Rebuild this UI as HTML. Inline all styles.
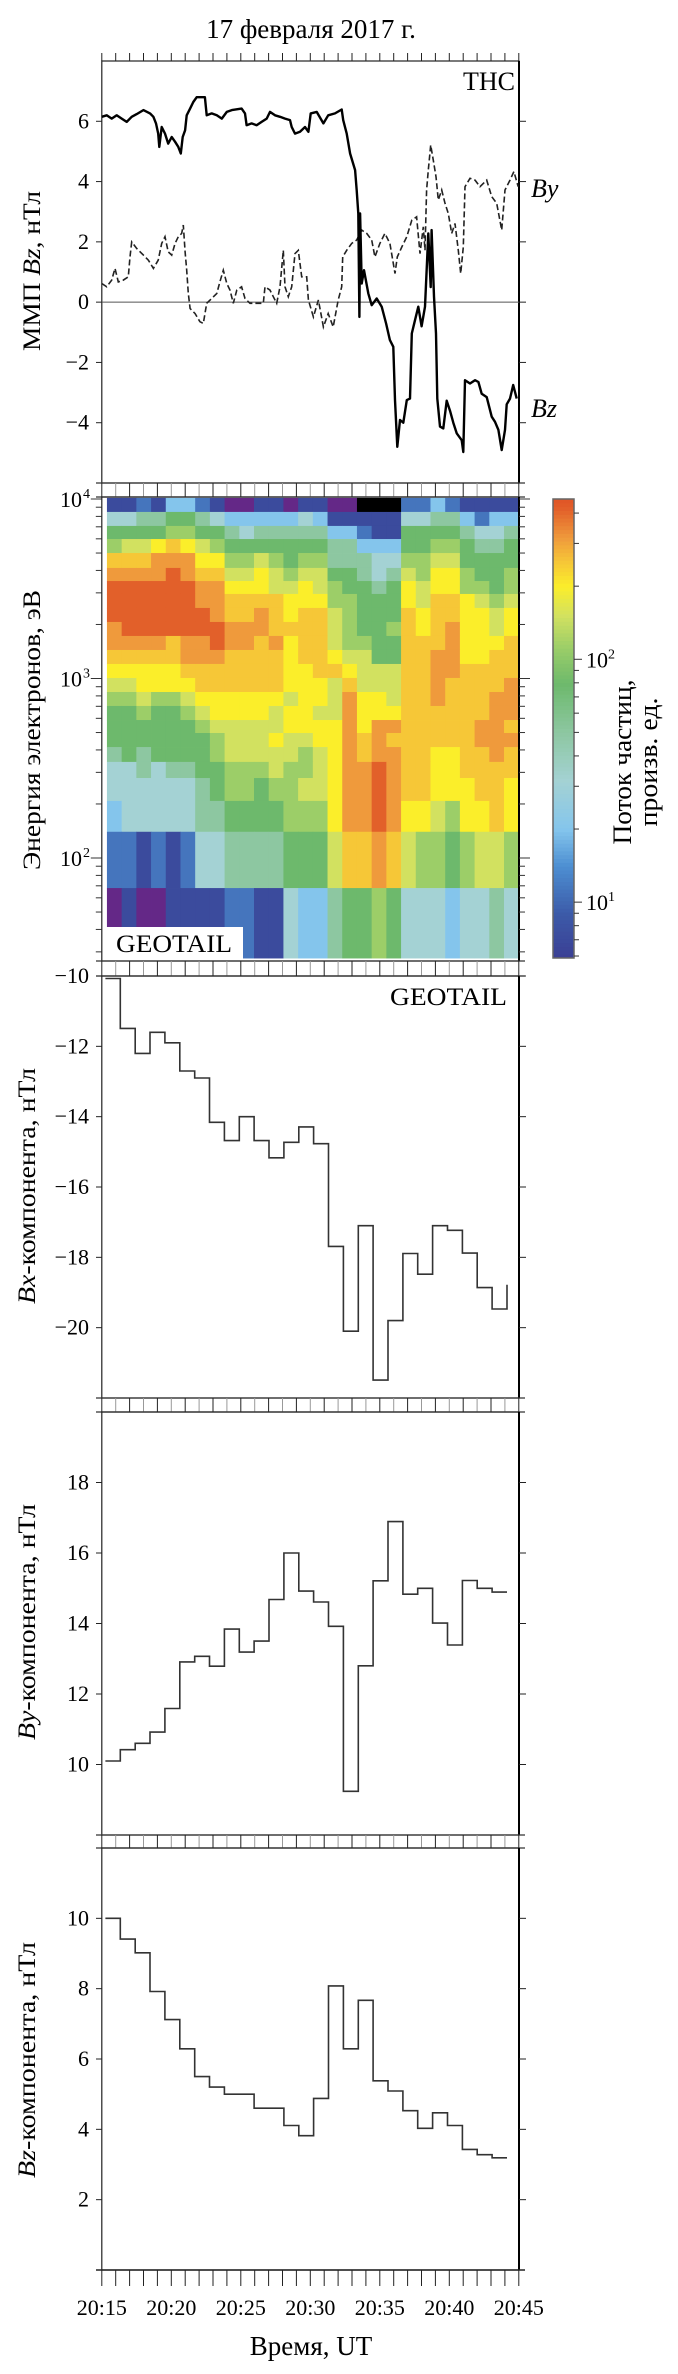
<!DOCTYPE html>
<html><head><meta charset="utf-8"><style>
html,body{margin:0;padding:0;background:#fff;}
svg{display:block;font-family:"Liberation Serif","DejaVu Serif",serif;}
</style></head><body>
<svg id="fig" width="678" height="2374" viewBox="0 0 678 2374" xmlns="http://www.w3.org/2000/svg">
<rect x="0" y="0" width="678" height="2374" fill="#fff"/>
<text x="311" y="38" font-size="27" text-anchor="middle">17 февраля 2017 г.</text>
<g id="g"></g>
</svg>
<script>
// ---------- Panel 1: THC IMF ----------
const bzTimes=[0,0.35,0.71,1.07,1.43,1.79,2.15,2.51,2.99,3.47,3.71,3.9,4.06,4.14,4.31,4.55,4.78,5.03,5.27,5.5,5.68,5.82,5.99,6.11,6.35,6.58,6.83,7.42,7.55,7.91,8.27,8.63,8.99,9.35,10.06,10.3,10.42,10.78,11.14,11.5,11.86,12.1,12.46,12.82,13.18,13.54,13.66,13.9,14.26,14.62,14.86,15.03,15.46,15.94,16.29,16.78,17.26,17.37,17.62,17.86,18.22,18.34,18.45,18.53,18.58,18.7,18.86,19.17,19.42,19.78,20.14,20.45,20.73,20.97,21.09,21.26,21.45,21.69,21.94,22.17,22.3,22.53,22.77,23.01,23.25,23.49,23.66,23.73,23.9,24.04,24.14,24.33,24.57,24.81,25.05,25.29,25.53,25.89,26.01,26.13,26.49,26.85,27.09,27.33,27.69,28.05,28.29,28.53,28.77,29.01,29.13,29.37,29.6,29.85];
const bzValues=[6.15,6.2,6.09,6.2,6.09,5.98,6.15,6.24,6.37,6.26,6.15,5.93,5.59,5.15,5.81,5.59,5.26,5.48,5.32,5.15,4.93,5.48,5.7,6.2,6.42,6.64,6.8,6.8,6.2,6.26,6.2,6.09,6.31,6.37,6.42,6.26,5.87,5.93,5.87,5.98,6.09,6.31,6.2,6.15,6.09,6.04,5.81,5.59,5.65,5.81,5.65,6.26,6.31,5.93,6.2,6.26,6.39,6.04,5.59,4.93,4.38,3.71,2.94,-0.49,2.94,0.62,1.06,0.29,-0.1,0.12,-0.15,-0.71,-1.26,-1.48,-3.25,-4.8,-3.91,-4.0,-3.25,-3.2,-1.04,-0.6,-0.15,-0.8,-0.15,2.28,0.5,2.39,0.18,-1.04,-3.2,-4.13,-4.19,-3.27,-3.6,-4.0,-4.35,-4.58,-4.97,-2.59,-2.7,-2.59,-2.65,-3.04,-3.15,-3.8,-3.97,-4.24,-4.91,-4.24,-3.39,-3.2,-2.75,-3.2];
const byTimes=[0,0.35,0.71,0.95,1.19,1.55,1.91,2.03,2.15,2.51,2.99,3.35,3.71,4.06,4.31,4.55,4.78,5.03,5.27,5.5,5.75,5.86,5.99,6.11,6.22,6.35,6.71,7.06,7.3,7.55,7.91,8.27,8.5,8.74,8.99,9.22,9.46,9.71,10.06,10.3,10.66,11.14,11.62,11.74,12.1,12.34,12.58,12.82,13.06,13.18,13.42,13.66,13.9,14.14,14.38,14.74,14.86,15.22,15.58,15.94,16.29,16.65,17.01,17.26,17.33,17.62,17.98,18.34,18.7,19.06,19.42,19.65,20.01,20.37,20.73,21.09,21.26,21.58,21.94,22.3,22.65,22.89,23.13,23.25,23.37,23.49,23.66,23.85,24.04,24.21,24.45,24.69,24.93,25.17,25.41,25.65,25.82,26.01,26.13,26.49,26.85,27.21,27.69,28.05,28.41,28.77,29.01,29.37,29.65,29.96];
const byValues=[0.62,0.51,0.73,1.12,0.67,0.73,0.84,1.5,2.0,1.78,1.56,1.39,1.12,1.39,1.95,2.17,1.67,1.56,1.95,2.17,2.28,2.56,1.67,1.06,0.29,-0.21,-0.38,-0.65,-0.71,-0.04,0.12,0.29,0.67,1.06,0.62,0.4,-0.04,0.4,0.51,0.12,-0.04,-0.04,-0.04,0.51,0.4,0.18,-0.04,0.51,1.72,0.51,0.18,0.51,1.61,1.72,0.84,0.84,0.07,-0.49,0.07,-0.82,-0.38,-0.82,0.07,0.51,1.5,1.72,1.95,2.06,2.39,2.28,2.06,1.5,1.95,2.28,1.95,0.95,1.5,1.83,2.17,2.72,2.83,1.61,2.5,1.72,3.72,4.38,5.21,4.71,4.16,3.39,3.72,3.28,2.94,2.28,2.61,1.72,0.95,1.83,3.83,4.11,4.05,3.83,4.05,3.5,3.28,2.39,3.72,4.05,4.33,3.83];
const p1Ticks=[-4,-2,0,2,4,6];

// ---------- Panel 2: electron spectrogram ----------
const energyEdges=[10139,8472,7079,5984,5000,4130,3491,2958,2472,2065,1726,1442,1205,1007,841,703,587,497,415,343,279,208,140,68,27.7];
const colTimeStart=0.37;
const colTimeStep=1.058;
const P=0.6,K=0.2,D=0.85,B=1.05,L=1.3,C=1.5,T=1.7,G=1.9,g=2.05,Y=2.18,y=2.3,o=2.4,O=2.5,R=2.62;
const fluxLog=[
[D,D,B,D,L,L,B,D,P,P,D,D,P,D,D,P,P,K,K,K,B,B,L,B,D,D,D,D],
[C,C,T,T,G,G,T,C,L,L,L,L,L,C,L,D,D,D,D,D,C,C,T,T,L,B,L,L],
[G,G,G,G,g,g,G,G,T,C,T,T,T,T,T,L,L,B,D,D,G,G,G,G,T,C,C,T],
[g,Y,Y,y,o,y,Y,g,G,G,G,G,G,G,G,T,T,L,L,L,G,G,g,g,G,T,T,G],
[o,o,o,O,O,O,y,y,g,g,Y,g,G,g,g,T,T,T,C,C,g,g,Y,Y,G,G,G,G],
[O,O,O,O,R,O,o,o,Y,Y,y,Y,g,Y,Y,G,G,T,C,T,Y,g,y,y,g,G,G,g],
[R,R,R,R,R,R,O,O,y,y,y,Y,Y,y,Y,g,G,G,T,G,y,Y,y,y,g,g,G,g],
[R,R,R,R,R,R,O,O,o,o,o,o,y,y,y,g,g,G,G,G,y,Y,o,o,y,Y,g,Y],
[R,R,R,R,R,R,R,O,o,o,O,o,y,o,o,Y,g,G,G,G,o,y,o,o,y,y,Y,y],
[O,R,R,R,R,R,R,R,O,O,O,o,o,o,o,Y,g,G,G,g,o,y,o,O,y,y,Y,y],
[O,O,O,O,o,O,O,R,O,O,o,O,y,o,o,Y,g,g,G,G,o,o,o,O,y,y,y,o],
[o,o,o,o,o,O,O,O,o,o,o,o,y,o,o,y,Y,Y,G,G,o,o,O,O,y,y,o,o],
[y,y,y,y,y,o,o,o,o,o,o,o,y,y,o,o,y,Y,Y,Y,o,o,O,O,o,o,o,o],
[Y,Y,y,y,y,y,o,o,o,o,o,o,y,y,y,Y,o,Y,Y,Y,o,o,O,o,o,o,o,O],
[g,g,Y,g,g,Y,y,y,y,y,y,y,Y,y,y,Y,O,y,y,Y,o,o,O,o,o,o,O,O],
[G,G,g,G,G,g,Y,y,y,y,y,Y,y,y,Y,Y,O,y,y,y,o,o,o,o,o,o,O,O],
[G,G,G,G,G,G,g,Y,Y,Y,Y,Y,y,y,y,y,O,y,O,O,o,o,o,o,o,O,O,o],
[G,G,G,G,G,G,G,g,Y,Y,Y,y,Y,Y,y,y,O,o,O,o,o,o,o,o,o,O,O,O],
[T,G,T,G,G,G,G,g,Y,Y,Y,Y,Y,g,Y,y,O,o,O,O,o,o,y,y,o,o,O,o],
[C,C,T,C,T,T,G,G,g,g,g,Y,g,g,Y,y,O,O,R,O,o,o,y,y,o,o,o,o],
[C,C,C,C,C,C,T,G,g,g,G,g,g,Y,Y,y,O,O,R,O,o,o,y,y,y,o,o,y],
[L,C,C,C,C,C,T,T,G,G,G,G,g,g,g,y,O,O,R,O,y,y,Y,g,y,y,o,y],
[B,B,D,B,D,B,C,C,T,T,T,T,G,G,G,Y,o,o,O,o,Y,g,g,G,g,Y,Y,g],
[P,D,P,P,D,D,D,D,B,B,D,D,C,L,L,T,G,G,g,G,C,C,C,L,C,C,T,C]
];
const eTickExps=[2,3,4];
const cbTickExps=[1,2];

// ---------- Panels 3-5: GEOTAIL field components ----------
const stepTimeStart=0.26;
const stepTimeStep=1.07;
const bxValues=[-10.07,-11.49,-12.2,-11.6,-11.9,-12.7,-12.9,-14.16,-14.68,-14.0,-14.68,-15.17,-14.73,-14.29,-14.77,-17.69,-20.1,-17.1,-21.49,-19.8,-17.89,-18.48,-17.1,-17.23,-17.88,-18.86,-19.47,-18.78];
const byGValues=[10.1,10.42,10.6,10.92,11.59,12.91,13.07,12.79,13.84,13.19,13.5,14.68,16.0,14.92,14.61,13.92,9.24,12.8,15.21,16.89,14.83,15.0,14.01,13.39,15.22,15.0,14.89,14.89];
const bzGValues=[10.0,9.41,9.02,7.92,7.12,6.29,5.5,5.2,5.0,5.0,4.6,4.6,4.11,3.82,4.88,8.08,6.29,7.67,5.38,5.09,4.53,4.03,4.47,4.11,3.43,3.28,3.19,3.19];
const bxTicks=[-20,-18,-16,-14,-12,-10];
const byTicks=[10,12,14,16,18];
const bzTicks=[2,4,6,8,10];
const timeLabels=["20:15","20:20","20:25","20:30","20:35","20:40","20:45"];

const NS="http://www.w3.org/2000/svg";
const G0=document.getElementById('g');
function mk(tag,attrs,parent){const e=document.createElementNS(NS,tag);for(const k in attrs)e.setAttribute(k,attrs[k]);(parent||G0).appendChild(e);return e;}
const XL=101.8, XR=519;
const X=t=>XL+t*13.9;
function lin(vmin,vmax,top,bot){return v=>bot-(v-vmin)/(vmax-vmin)*(bot-top);}

function frame(name,top,bot){
  const r=mk('rect',{x:XL,y:top,width:XR-XL,height:bot-top,fill:'none',stroke:'#222','stroke-width':1.2});
  
  
  const rr=mk('line',{x1:XR,y1:top,x2:XR,y2:bot,stroke:'#000','stroke-width':2});
  
  
}
function strip(name,top,bot){
  const gg=mk('g',{});
  
  
  mk('line',{x1:96,y1:top,x2:XR+6,y2:top,stroke:'#333','stroke-width':1.2},gg);
  mk('line',{x1:96,y1:bot,x2:XR+6,y2:bot,stroke:'#333','stroke-width':1.2},gg);
  for(let i=0;i<=30;i++){mk('line',{x1:X(i),y1:top,x2:X(i),y2:bot,stroke:i%2?'#999':'#222','stroke-width':1},gg);}
}
function yTicks(name,ticks,sc,fmt){
  const gg=mk('g',{});
  
  
  ticks.forEach(v=>{const yy=sc(v);
    mk('line',{x1:96,y1:yy,x2:XL,y2:yy,stroke:'#222','stroke-width':1},gg);
    mk('line',{x1:XR,y1:yy,x2:XR+7,y2:yy,stroke:'#222','stroke-width':1},gg);
    const t=mk('text',{x:89,y:yy+7,'font-size':22,'text-anchor':'end'},gg);t.textContent=fmt(v);});
}
function yTitle(name,cx,cy,len,parts){
  const t=mk('text',{transform:`translate(${cx},${cy}) rotate(-90)`,'text-anchor':'middle','font-size':25,textLength:len,lengthAdjust:'spacingAndGlyphs'});
  
  
  parts.forEach(p=>{const s=mk('tspan',p[1]?{'font-style':'italic'}:{},t);s.textContent=p[0];});
}
const minus=v=>(v<0?'\u2212':'')+Math.abs(v);

// Panel 1
const y1=lin(-6,8,61,483);
frame('imf-panel',61,483);
for(let i=0;i<=30;i++){mk('line',{x1:X(i),y1:53,x2:X(i),y2:61,stroke:'#222','stroke-width':1});}
yTicks('imf-y-ticks',p1Ticks,y1,minus);
const zl=mk('line',{x1:XL,y1:y1(0),x2:XR,y2:y1(0),stroke:'#555','stroke-width':1});


let dBy=byTimes.map((t,i)=>(i?'L':'M')+X(t).toFixed(1)+' '+y1(byValues[i]).toFixed(1)).join(' ');
const pBy=mk('path',{d:dBy,fill:'none',stroke:'#222','stroke-width':1.6,'stroke-dasharray':'6,3'});


let dBz=bzTimes.map((t,i)=>(i?'L':'M')+X(t).toFixed(1)+' '+y1(bzValues[i]).toFixed(1)).join(' ');
const pBz=mk('path',{d:dBz,fill:'none',stroke:'#000','stroke-width':2.4,'stroke-linejoin':'round'});


let tx=mk('text',{x:515,y:90,'font-size':26,'text-anchor':'end'});tx.textContent='THC';


tx=mk('text',{x:531,y:197,'font-size':26,'font-style':'italic'});tx.textContent='By';


tx=mk('text',{x:531,y:417,'font-size':26,'font-style':'italic'});tx.textContent='Bz';


yTitle('imf-y-axis-title',40,271,160,[['ММП ',0],['Bz',1],[', нТл',0]]);

strip('strip-1',483,497);

// Panel 2 heatmap
const eTop=499,eDec=179.5;
const yE=E=>eTop+(4-Math.log10(E))*eDec;
const stops=[[0.77,[59,63,148]],[0.95,[60,90,168]],[1.15,[77,143,210]],[1.3,[132,197,236]],[1.5,[164,210,212]],[1.7,[141,199,161]],[1.9,[109,185,108]],[2.05,[156,206,104]],[2.18,[210,225,96]],[2.3,[251,238,42]],[2.4,[246,199,55]],[2.5,[239,154,60]],[2.62,[226,96,42]],[2.66,[224,85,38]]];
function cmap(v){
  if(v<0.4)return 'rgb(0,0,0)';
  if(v<0.72)return 'rgb(100,40,135)';
  if(v<=stops[0][0])return `rgb(${stops[0][1]})`;
  for(let i=1;i<stops.length;i++){if(v<=stops[i][0]){const a=stops[i-1],b=stops[i],f=(v-a[0])/(b[0]-a[0]);
    return 'rgb('+a[1].map((c,k)=>Math.round(c+(b[1][k]-c)*f)).join(',')+')';}}
  return `rgb(${stops[stops.length-1][1]})`;
}
const hm=mk('g',{});


fluxLog.forEach((row,r)=>{
  const ya=yE(energyEdges[r]),yb=yE(energyEdges[r+1]);
  row.forEach((v,c)=>{
    const xa=X(colTimeStart+c*colTimeStep),xb=Math.min(XR,X(colTimeStart+(c+1)*colTimeStep));
    const cell=mk('rect',{x:xa.toFixed(2),y:ya.toFixed(2),width:(xb-xa+0.4).toFixed(2),height:(yb-ya+0.4).toFixed(2),fill:cmap(v)},hm);
    
    
  });
});
frame('spectrogram-panel',497,961);
const et=mk('g',{});


for(let d=1;d<=4;d++){for(let m=1;m<10;m++){const E=Math.pow(10,d)*m;const yy=yE(E);if(yy<497||yy>961)continue;
  const len=m===1?11:6;
  mk('line',{x1:XL-len,y1:yy,x2:XL,y2:yy,stroke:'#333','stroke-width':1},et);
  mk('line',{x1:XR,y1:yy,x2:XR+len,y2:yy,stroke:'#333','stroke-width':1},et);}}
eTickExps.forEach(e=>{const t=mk('text',{x:82,y:yE(Math.pow(10,e))+8,'font-size':22,'text-anchor':'end'},et);t.textContent='10';
  const s=mk('tspan',{x:83,dy:-9,'font-size':14,'text-anchor':'start'},t);s.textContent=String(e);});
const gb=mk('rect',{x:103,y:927,width:140,height:33,fill:'#fff'});


tx=mk('text',{x:116,y:952,'font-size':25,textLength:116,lengthAdjust:'spacingAndGlyphs'});tx.textContent='GEOTAIL';


yTitle('energy-y-axis-title',40,730,280,[['Энергия электронов, эВ',0]]);

// colorbar
const cbTop=499,cbBot=958,cbMin=0.77,cbMax=2.66;
const yC=v=>cbBot-(v-cbMin)/(cbMax-cbMin)*(cbBot-cbTop);
const cb=mk('g',{});


for(let i=0;i<120;i++){const v=cbMin+(cbMax-cbMin)*(i+0.5)/120;const ya=yC(cbMin+(cbMax-cbMin)*(i+1)/120);
  mk('rect',{x:553,y:ya,width:21,height:(cbBot-cbTop)/120+0.5,fill:cmap(v)},cb);}
mk('rect',{x:553,y:cbTop,width:21,height:cbBot-cbTop,fill:'none',stroke:'#666','stroke-width':1.5},cb);
for(let d=0;d<=2;d++){for(let m=1;m<10;m++){const lv=d+Math.log10(m);if(lv<cbMin||lv>cbMax)continue;const yy=yC(lv);
  mk('line',{x1:574,y1:yy,x2:m===1?582:579,y2:yy,stroke:'#333','stroke-width':1},cb);}}
cbTickExps.forEach(e=>{const t=mk('text',{x:586,y:yC(e)+8,'font-size':22},cb);t.textContent='10';
  const s=mk('tspan',{dy:-9,'font-size':14},t);s.textContent=String(e);});
tx=mk('text',{transform:'translate(631,762) rotate(-90)','text-anchor':'middle','font-size':26,textLength:165,lengthAdjust:'spacingAndGlyphs'});tx.textContent='Поток частиц,';


tx=mk('text',{transform:'translate(657,762) rotate(-90)','text-anchor':'middle','font-size':26,textLength:129,lengthAdjust:'spacingAndGlyphs'});tx.textContent='произв. ед.';



strip('strip-2',961,976);

function stepPanel(name,vals,sc){
  let d='';
  vals.forEach((v,i)=>{const xa=X(stepTimeStart+i*stepTimeStep);
    if(i===0)d+='M'+xa.toFixed(1)+' '+sc(v).toFixed(1);
    else d+=' V'+sc(v).toFixed(1);
    if(i<vals.length-1)d+=' H'+X(stepTimeStart+(i+1)*stepTimeStep).toFixed(1);});
  const p=mk('path',{d:d,fill:'none',stroke:'#333','stroke-width':1.6});
  
  
}
// Panel 3
const y3=lin(-22,-10,976,1398);
frame('bx-panel',976,1398);
yTicks('bx-y-ticks',bxTicks,y3,minus);
stepPanel('bx-step-line',bxValues,y3);
tx=mk('text',{x:507,y:1005,'font-size':25,'text-anchor':'end',textLength:117,lengthAdjust:'spacingAndGlyphs'});tx.textContent='GEOTAIL';


yTitle('bx-y-axis-title',35,1186,236,[['Bx',1],['-компонента, нТл',0]]);
strip('strip-3',1398,1412);
// Panel 4
const y4=lin(8,20,1412,1835);
frame('by-panel',1412,1835);
yTicks('by-y-ticks',byTicks,y4,minus);
stepPanel('by-step-line',byGValues,y4);
yTitle('by-y-axis-title',35,1622,236,[['By',1],['-компонента, нТл',0]]);
strip('strip-4',1835,1848);
// Panel 5
const y5=lin(0,12,1848,2270);
frame('bz-panel',1848,2270);
yTicks('bz-y-ticks',bzTicks,y5,minus);
stepPanel('bz-step-line',bzGValues,y5);
yTitle('bz-y-axis-title',35,2060,236,[['Bz',1],['-компонента, нТл',0]]);
const xa=mk('g',{});


mk('line',{x1:96,y1:2270,x2:XR+6,y2:2270,stroke:'#222','stroke-width':1.5},xa);
for(let i=0;i<=30;i++){mk('line',{x1:X(i),y1:2270,x2:X(i),y2:2286,stroke:'#222','stroke-width':1},xa);}
timeLabels.forEach((l,i)=>{const t=mk('text',{x:X(i*5),y:2315,'font-size':22,'text-anchor':'middle'},xa);t.textContent=l;});
tx=mk('text',{x:311,y:2355,'font-size':27,'text-anchor':'middle'});tx.textContent='Время, UT';


</script>
</body></html>
